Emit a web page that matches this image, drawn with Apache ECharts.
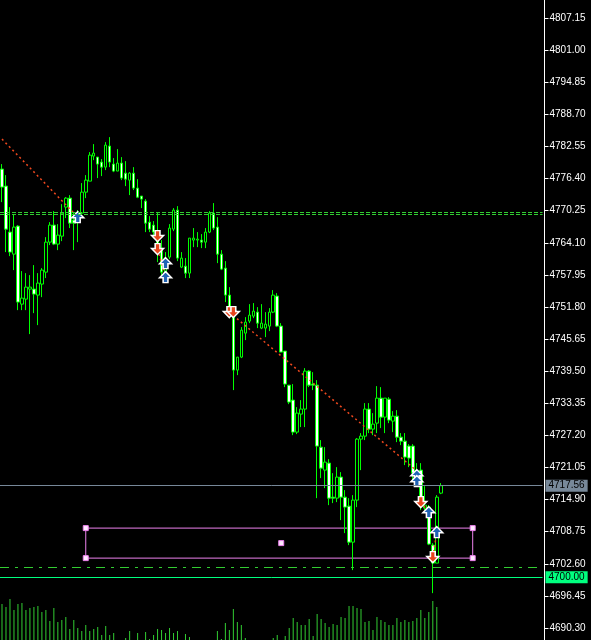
<!DOCTYPE html>
<html>
<head>
<meta charset="utf-8">
<script src="https://cdn.jsdelivr.net/npm/echarts@6/dist/echarts.min.js"></script>
<style>
  html, body { margin: 0; padding: 0; background: #000; }
  #chart { width: 591px; height: 640px; }
</style>
</head>
<body>
<div id="chart"></div>
<script>
// prices, one entry per bar (oldest first)
const opens = [4778.22,4774.96,4766.15,4761.93,4767.30,4752.35,4753.31,4755.23,4755.23,4754.08,
  4756.19,4758.48,4764.23,4767.49,4763.85,4765.38,4770.94,4772.66,4768.45,4768.06,
  4769.79,4773.81,4775.92,4780.71,4780.52,4779.56,4778.60,4782.63,4779.18,4777.84,
  4779.37,4777.45,4776.11,4777.45,4774.58,4773.05,4772.09,4768.06,4767.49,4766.15,
  4763.08,4758.48,4761.36,4766.72,4770.36,4759.44,4759.63,4758.29,4764.62,4764.62,
  4764.62,4764.23,4766.15,4769.79,4767.11,4761.93,4759.25,4754.08,4750.63,4739.71,
  4742.20,4746.80,4749.10,4750.05,4750.82,4747.76,4747.76,4748.14,4750.82,4753.89,
  4748.14,4743.35,4736.83,4733.96,4727.83,4731.28,4732.24,4739.52,4737.03,4736.83,
  4724.95,4720.55,4721.89,4715.37,4715.18,4719.21,4715.37,4713.65,4706.75,4714.80,
  4726.49,4727.06,4732.24,4728.40,4729.55,4734.34,4730.70,4734.15,4729.94,4730.89,
  4726.87,4726.10,4725.15,4725.15,4719.97,4720.55,4713.27,4713.46,4706.18,4702.73,
  4716.14];
const closes = [4774.77,4766.72,4762.32,4767.11,4752.74,4753.50,4755.61,4755.61,4754.27,4756.38,
  4758.87,4764.23,4767.49,4763.85,4765.57,4769.79,4772.66,4767.87,4767.87,4769.60,
  4773.81,4776.11,4780.90,4781.29,4779.18,4778.60,4782.82,4779.56,4777.84,4779.37,
  4776.50,4776.30,4777.45,4774.58,4772.85,4772.47,4767.87,4766.72,4766.15,4762.70,
  4758.48,4761.17,4766.92,4770.36,4761.17,4761.17,4758.29,4765.00,4765.00,4764.81,
  4764.23,4766.15,4769.79,4766.92,4761.93,4759.06,4754.08,4751.59,4739.71,4742.20,
  4747.37,4748.90,4750.25,4751.01,4748.71,4748.71,4748.52,4750.82,4754.08,4748.14,
  4743.16,4737.03,4733.58,4727.83,4731.47,4732.24,4739.52,4736.83,4736.83,4725.15,
  4720.93,4722.08,4715.18,4715.18,4719.21,4715.37,4713.46,4706.75,4714.80,4726.49,
  4727.06,4732.24,4728.40,4729.36,4734.34,4730.70,4734.34,4730.13,4730.89,4726.87,
  4726.10,4723.04,4722.85,4719.97,4719.02,4715.18,4713.84,4706.37,4702.73,4715.37,
  4717.56];
const highs = [4779.18,4777.07,4770.94,4769.60,4767.49,4758.68,4758.29,4757.91,4759.83,4758.29,
  4759.25,4765.19,4768.06,4770.17,4767.68,4771.51,4772.85,4773.24,4769.98,4770.36,
  4775.54,4777.07,4781.48,4783.01,4780.52,4780.14,4783.39,4784.35,4780.33,4782.05,
  4780.52,4779.75,4777.64,4778.60,4776.30,4773.05,4772.47,4769.21,4768.26,4769.98,
  4764.62,4762.32,4767.68,4770.75,4771.13,4762.32,4761.17,4765.00,4766.92,4766.15,
  4765.77,4766.92,4770.17,4771.71,4769.02,4762.70,4760.59,4755.61,4751.59,4742.20,
  4747.95,4749.86,4752.35,4752.55,4751.78,4752.35,4750.82,4751.59,4755.04,4754.46,
  4748.71,4743.35,4736.83,4737.03,4732.62,4733.96,4740.09,4739.71,4739.32,4737.79,
  4726.30,4724.95,4722.66,4719.97,4721.12,4720.16,4716.72,4715.18,4715.76,4726.68,
  4727.64,4733.39,4733.39,4731.47,4736.64,4736.45,4734.34,4734.53,4731.85,4732.04,
  4727.64,4727.64,4725.53,4725.53,4721.89,4721.89,4717.48,4713.84,4706.56,4715.76,
  4718.06];
const lows = [4771.90,4762.32,4761.55,4758.87,4751.20,4751.20,4751.20,4746.61,4750.63,4748.33,
  4753.69,4757.34,4763.66,4763.66,4762.70,4764.42,4768.83,4766.92,4762.70,4764.23,
  4769.02,4772.66,4775.92,4779.94,4776.50,4776.88,4778.03,4778.60,4777.64,4777.84,
  4776.11,4774.96,4773.24,4774.20,4772.66,4770.75,4766.15,4766.15,4765.00,4760.40,
  4757.53,4757.72,4760.98,4766.34,4760.59,4759.25,4757.34,4757.34,4763.27,4763.27,
  4763.08,4763.08,4765.96,4766.53,4760.21,4758.87,4752.74,4749.67,4735.88,4738.75,
  4742.01,4745.46,4748.71,4749.67,4747.76,4747.56,4746.03,4747.18,4750.63,4747.95,
  4743.16,4736.45,4733.19,4727.25,4727.45,4728.79,4728.79,4736.45,4735.88,4715.18,
  4719.02,4717.10,4713.84,4714.23,4714.42,4710.97,4708.48,4706.18,4701.39,4713.46,
  4720.55,4726.30,4727.64,4727.25,4727.64,4728.60,4727.64,4729.55,4727.83,4725.91,
  4725.34,4721.51,4721.12,4718.63,4717.67,4712.88,4712.88,4706.18,4696.98,4702.73,
  4715.95];
const volumes = [36,33,41,30,36,37,30,32,33,34, 28,30,19,32,18,20,23,11,20,12,
  9,15,9,11,13,5,14,5,7,0, 0,2,9,0,7,0,8,1,5,11,
  10,7,12,7,9,0,6,3,0,0, 0,0,0,0,9,1,17,10,31,18,
  15,2,0,0,0,0,0,0,2,5, 0,4,12,22,18,15,15,21,4,26,
  21,17,13,16,15,23,22,34,34,32, 31,18,19,10,23,20,18,15,15,22,
  18,20,18,19,22,30,22,28,39,33, 0];
const emptyBars = 25;   // free space right of the last bar

// horizontal levels
const bidPrice = 4717.56;
const alertPrice = 4700.00;
const stopPrice = 4701.97;
const dottedLevels = [4769.98, 4769.60];

// rectangle object [bar, price]
const boxStart = [21, 4709.44];
const boxEnd = [118, 4703.69];

// trade arrows and the lines joining them [bar, price]
const buyArrows = [[19, 4769.02], [41, 4760.21], [41, 4757.53], [104, 4719.59],
  [104, 4718.44], [107, 4712.50], [109, 4708.67]];
const sellArrows = [[39, 4765.38], [39, 4762.89], [57, 4750.82], [58, 4750.82],
  [105, 4714.42], [108, 4703.88]];
const tradeLines = [
  [[0, 4783.97], [19, 4769.02]],
  [[57, 4750.82], [104, 4720.40]],
  [[39, 4762.89], [41, 4757.53]],
  [[105, 4714.42], [107, 4712.50]],
  [[108, 4703.88], [109, 4708.67]]
];

// price scale
const scaleLow = 4690.30;
const scaleHigh = 4810.62;
const tickStep = 6.15;

const categories = Array.from({ length: opens.length + emptyBars }, (_, i) => String(i));
const candles = opens.map((o, i) => [o, closes[i], lows[i], highs[i]]);
const midBar = (boxStart[0] + boxEnd[0]) / 2;
const midPrice = (boxStart[1] + boxEnd[1]) / 2;

const upArrow = 'path://M5,0 L10,5 L7,5 L7,9 L3,9 L3,5 L0,5 Z';
const downArrow = 'path://M5,9 L10,4 L7,4 L7,0 L3,0 L3,4 L0,4 Z';
const font = 'Liberation Sans, Arial, sans-serif';

const chart = echarts.init(document.getElementById('chart'));

chart.setOption({
  backgroundColor: '#000',
  animation: false,
  grid: [
    { left: -1.5, width: 544, top: 0, height: 628 },
    { left: -1.5, width: 544, top: 560, height: 80 }
  ],
  xAxis: [
    { type: 'category', data: categories, gridIndex: 0, show: false },
    { type: 'category', data: categories, gridIndex: 1, show: false }
  ],
  yAxis: [
    { type: 'value', gridIndex: 0, min: scaleLow, max: scaleHigh, show: false },
    {
      // labels only: 0 = bottom of the price scale
      type: 'value', gridIndex: 0, position: 'right', offset: 2,
      min: 0, max: +(scaleHigh - scaleLow).toFixed(2), interval: tickStep,
      splitLine: { show: false },
      axisLine: { show: true, lineStyle: { color: '#fff', width: 1 } },
      axisTick: { show: true, length: 4, lineStyle: { color: '#fff' } },
      axisLabel: {
        color: '#fff', fontSize: 10, fontFamily: font, margin: 5, showMaxLabel: false,
        formatter: v => {
          const k = v / tickStep;
          return Math.abs(k - Math.round(k)) < 1e-6 ? (v + scaleLow).toFixed(2) : '';
        }
      }
    },
    {
      type: 'value', gridIndex: 1, min: 0, max: 80, position: 'right', offset: 2,
      splitLine: { show: false }, axisTick: { show: false }, axisLabel: { show: false },
      axisLine: { show: true, lineStyle: { color: '#fff', width: 1 } }
    }
  ],
  series: [
    {
      name: 'volume', type: 'bar', xAxisIndex: 1, yAxisIndex: 2,
      data: volumes, barWidth: 1, itemStyle: { color: '#32cd32' }, silent: true
    },
    {
      name: 'levels', type: 'line', xAxisIndex: 0, yAxisIndex: 0, data: [], clip: false, z: 1,
      markLine: {
        silent: true, symbol: ['none', 'none'], animation: false,
        data: [
          { yAxis: dottedLevels[0], lineStyle: { color: '#32cd32', width: 1, type: [4, 2] }, label: { show: false } },
          { yAxis: dottedLevels[1], lineStyle: { color: '#32cd32', width: 1, type: [4, 2] }, label: { show: false } },
          { yAxis: stopPrice, lineStyle: { color: '#32cd32', width: 1, type: [9, 6, 3, 6] }, label: { show: false } },
          {
            yAxis: alertPrice, lineStyle: { color: '#00ff7f', width: 1, type: 'solid' },
            label: {
              show: true, position: 'end', distance: 3, formatter: alertPrice.toFixed(2),
              color: '#000', backgroundColor: '#00ff7f', fontSize: 10, fontFamily: font,
              padding: [1, 3, 0, 3], lineHeight: 11
            }
          },
          {
            yAxis: bidPrice, lineStyle: { color: '#778899', width: 1, type: 'solid' },
            label: {
              show: true, position: 'end', distance: 3, formatter: bidPrice.toFixed(2),
              color: '#000', backgroundColor: '#778899', fontSize: 10, fontFamily: font,
              padding: [1, 3, 0, 3], lineHeight: 11
            }
          }
        ]
      },
      markArea: {
        silent: true,
        itemStyle: { color: 'rgba(0,0,0,0)', borderColor: '#ee82ee', borderWidth: 1 },
        data: [[{ coord: boxStart }, { coord: boxEnd }]]
      }
    },
    {
      name: 'price', type: 'candlestick', xAxisIndex: 0, yAxisIndex: 0, z: 2,
      data: candles, barWidth: 3,
      itemStyle: {
        color: '#000', color0: '#fff',
        borderColor: '#00ff00', borderColor0: '#00ff00', borderColorDoji: '#00ff00',
        borderWidth: 1
      }
    },
    ...tradeLines.map(pts => ({
      type: 'line', xAxisIndex: 0, yAxisIndex: 0, data: pts, z: 3,
      symbol: 'none', silent: true,
      lineStyle: { color: '#f0481e', width: 1.5, type: [2, 3] }
    })),
    {
      name: 'buy', type: 'scatter', xAxisIndex: 0, yAxisIndex: 0, z: 4, data: buyArrows,
      symbol: upArrow, symbolSize: [12, 11],
      itemStyle: { color: '#1f63b5', borderColor: '#fff', borderWidth: 1.5, opacity: 1 }
    },
    {
      name: 'sell', type: 'scatter', xAxisIndex: 0, yAxisIndex: 0, z: 4, data: sellArrows,
      symbol: downArrow, symbolSize: [12, 11],
      itemStyle: { color: '#e8441c', borderColor: '#fff', borderWidth: 1.5, opacity: 1 }
    },
    {
      name: 'handles', type: 'scatter', xAxisIndex: 0, yAxisIndex: 0, z: 5,
      data: [boxStart, [boxEnd[0], boxStart[1]], [boxStart[0], boxEnd[1]], boxEnd, [midBar, midPrice]],
      symbol: 'rect', symbolSize: 5,
      itemStyle: { color: '#ffe8ff', borderColor: '#ee82ee', borderWidth: 1, opacity: 1 }
    }
  ]
});
</script>
</body>
</html>
